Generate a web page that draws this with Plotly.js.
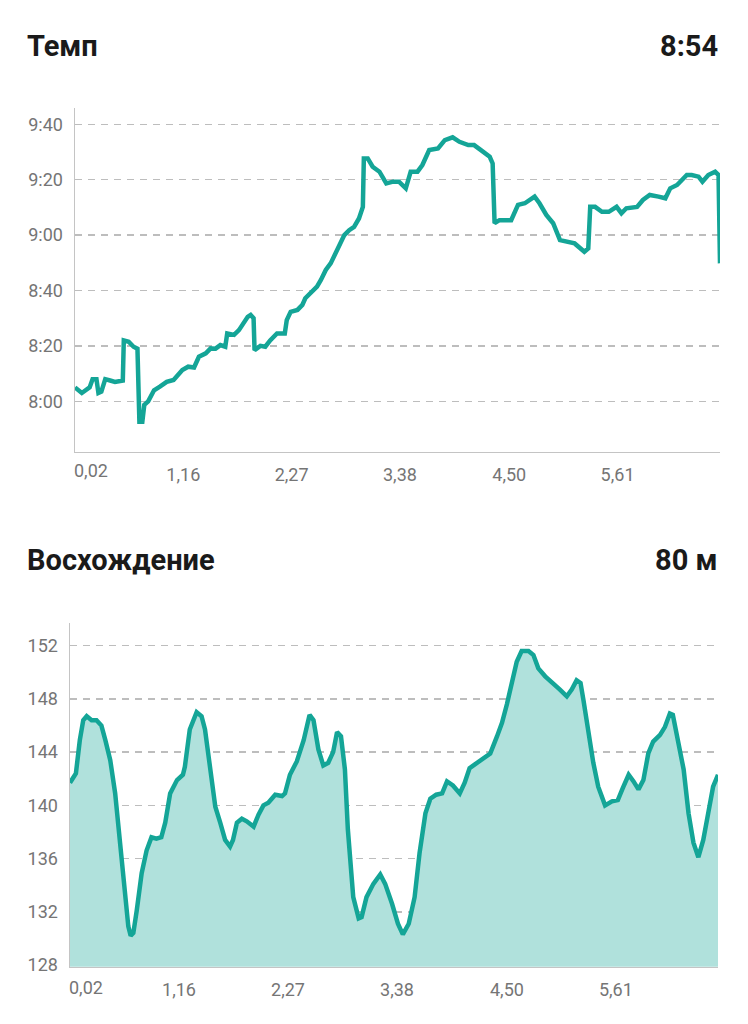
<!DOCTYPE html>
<html>
<head>
<meta charset="utf-8">
<script src="https://cdn.plot.ly/plotly-3.0.1.min.js"></script>
<style>
  body { margin: 0; background: #fff; }
  #charts { width: 748px; height: 1024px; }
</style>
</head>
<body>
<div id="charts"></div>
<script>
// pace, seconds per km, against distance in km
const paceKm = [0.05, 0.12, 0.20, 0.23, 0.27, 0.29, 0.32, 0.36, 0.41, 0.46, 0.54, 0.55, 0.60, 0.65, 0.69, 0.71, 0.74, 0.76, 0.80, 0.86,
  0.92, 0.99, 1.06, 1.15, 1.21, 1.27, 1.32, 1.39, 1.44, 1.49, 1.54, 1.59, 1.61, 1.68, 1.73, 1.78, 1.82, 1.85, 1.88, 1.89,
  1.95, 2.00, 2.05, 2.12, 2.20, 2.22, 2.26, 2.33, 2.38, 2.41, 2.47, 2.53, 2.57, 2.62, 2.67, 2.72, 2.76, 2.81, 2.86, 2.91,
  2.96, 3.00, 3.01, 3.05, 3.10, 3.17, 3.24, 3.31, 3.37, 3.44, 3.49, 3.56, 3.61, 3.68, 3.77, 3.84, 3.92, 3.99, 4.08, 4.14,
  4.21, 4.30, 4.33, 4.35, 4.40, 4.47, 4.52, 4.59, 4.66, 4.76, 4.81, 4.88, 4.95, 5.02, 5.09, 5.17, 5.27, 5.31, 5.33, 5.38,
  5.45, 5.52, 5.60, 5.65, 5.70, 5.81, 5.87, 5.94, 6.03, 6.10, 6.15, 6.22, 6.32, 6.37, 6.44, 6.48, 6.54, 6.61, 6.645, 6.66];
const paceSec = [485, 483, 485, 488, 488, 483, 483.5, 488, 487.5, 487, 487.5, 502, 501.5, 499.7, 499, 472.6, 472.6, 478.7, 480, 484,
  485.3, 487, 487.7, 491.3, 492.5, 492.2, 496.1, 497.3, 499.1, 499, 500.3, 499.7, 504.5, 504, 505.7, 508.2, 510.5, 511.2, 510, 498.5,
  500, 499.7, 502, 504.5, 504.5, 509.3, 512.3, 513, 514.8, 517.2, 519.6, 521.4, 523.8, 527.4, 529.8, 533.4, 537, 540, 541.8, 543,
  546, 550.2, 567.7, 567.7, 564.7, 562.9, 558.7, 559.3, 559.3, 556.9, 562.9, 562.9, 565.3, 570.7, 571.3, 574.3, 575.3, 573.7, 572.5, 572.5,
  570.7, 568.3, 565.9, 544.3, 545.4, 545.6, 545.4, 550.9, 551.5, 553.9, 551.5, 547.3, 544.3, 538.2, 537.6, 537, 534, 535.2, 550.2, 550.2,
  548.4, 548.4, 550.2, 547.9, 549.7, 550.2, 552.7, 554.5, 553.9, 553.3, 556.9, 558.1, 561.7, 561.7, 561.1, 559.3, 561.7, 562.9, 561.7, 529.8];

// elevation, metres
const elevKm = [0.05, 0.11, 0.15, 0.185, 0.22, 0.27, 0.32, 0.37, 0.41, 0.46, 0.51, 0.56, 0.61, 0.644, 0.668, 0.695, 0.73, 0.78, 0.83, 0.88,
  0.93, 0.98, 1.02, 1.07, 1.14, 1.20, 1.22, 1.27, 1.34, 1.39, 1.425, 1.48, 1.53, 1.58, 1.63, 1.68, 1.71, 1.75, 1.80, 1.85,
  1.92, 1.97, 2.02, 2.07, 2.14, 2.21, 2.24, 2.29, 2.36, 2.43, 2.49, 2.53, 2.58, 2.63, 2.68, 2.73, 2.77, 2.81, 2.85, 2.88,
  2.935, 2.99, 3.02, 3.07, 3.14, 3.21, 3.26, 3.33, 3.39, 3.44, 3.50, 3.56, 3.61, 3.67, 3.72, 3.78, 3.84, 3.89, 3.95, 4.02,
  4.07, 4.12, 4.19, 4.26, 4.33, 4.40, 4.45, 4.50, 4.55, 4.60, 4.65, 4.72, 4.77, 4.82, 4.89, 4.97, 5.04, 5.11, 5.16, 5.21,
  5.25, 5.28, 5.33, 5.38, 5.43, 5.50, 5.57, 5.63, 5.68, 5.74, 5.79, 5.84, 5.89, 5.94, 5.99, 6.06, 6.11, 6.16, 6.19, 6.24,
  6.30, 6.35, 6.40, 6.45, 6.50, 6.55, 6.60, 6.65];
const elevM = [141.7, 142.4, 144.9, 146.4, 146.7, 146.4, 146.4, 146, 144.9, 143.4, 140.9, 137.2, 133.1, 130.9, 130.2, 130.4, 132.1, 134.9, 136.6, 137.6,
  137.5, 137.6, 138.7, 140.9, 141.9, 142.3, 142.9, 145.7, 147, 146.7, 145.7, 142.7, 139.9, 138.7, 137.4, 136.9, 137.4, 138.7, 139, 138.8,
  138.4, 139.3, 140, 140.2, 140.8, 140.7, 140.9, 142.3, 143.3, 144.9, 146.8, 146.4, 144.2, 143, 143.2, 144, 145.5, 145.2, 142.7, 138.2,
  133.1, 131.5, 131.6, 133.1, 134.1, 134.8, 134.1, 132.6, 131.1, 130.3, 131.1, 133.1, 136.4, 139.4, 140.5, 140.8, 140.9, 141.8, 141.5, 140.9,
  141.7, 142.8, 143.2, 143.5, 143.9, 145.2, 146.2, 147.6, 149.3, 150.8, 151.6, 151.6, 151.3, 150.3, 149.7, 149.2, 148.7, 148.2, 148.7, 149.4,
  149.2, 147.9, 145.4, 143.2, 141.4, 140, 140.3, 140.4, 141.3, 142.3, 141.8, 141.2, 141.9, 143.9, 144.8, 145.3, 145.9, 146.9, 146.8, 144.9,
  142.7, 139.4, 137.2, 136.1, 137.4, 139.4, 141.4, 142.3];

const paceTicks = [480, 500, 520, 540, 560, 580];
const paceLabels = ["8:00", "8:20", "8:40", "9:00", "9:20", "9:40"];
const elevTicks = [128, 132, 136, 140, 144, 148, 152];
const distTicks = [1.16, 2.27, 3.38, 4.50, 5.61];
const distLabels = ["1,16", "2,27", "3,38", "4,50", "5,61"];
const firstDistLabel = "0,02";

const teal = "#14a597";
const tickFont = { family: "Roboto, sans-serif", size: 18, color: "#757575" };
const titleFont = { family: "Roboto, sans-serif", size: 29, color: "#1a1a1a", weight: 700 };

const grid = {
  showgrid: true, gridcolor: "#bdbdbd", gridwidth: 1.5, griddash: "7px,6px",
  zeroline: false, showline: true, linecolor: "#c4c4c4", linewidth: 1.5,
  ticks: "", tickfont: tickFont, fixedrange: true
};

const traces = [
  {
    x: paceKm, y: paceSec, type: "scatter", mode: "lines",
    line: { color: teal, width: 4.5 }, xaxis: "x", yaxis: "y", hoverinfo: "skip"
  },
  {
    x: elevKm, y: elevM, type: "scatter", mode: "lines", fill: "tozeroy",
    fillcolor: "#b0e1dc", line: { color: teal, width: 4.5 }, xaxis: "x2", yaxis: "y2", hoverinfo: "skip"
  }
];

const layout = {
  width: 748, height: 1024,
  margin: { l: 0, r: 0, t: 0, b: 0 },
  paper_bgcolor: "#fff", plot_bgcolor: "#fff",
  showlegend: false,
  xaxis: Object.assign({}, grid, {
    domain: [75 / 748, 720 / 748], anchor: "y", range: [0.05, 6.66],
    showgrid: false, tickvals: distTicks, ticktext: distLabels, ticklabelstandoff: 6
  }),
  yaxis: Object.assign({}, grid, {
    domain: [1 - 451.7 / 1024, 1 - 108 / 1024], anchor: "x", range: [461.8, 585.9],
    tickvals: paceTicks, ticktext: paceLabels, ticklabelstandoff: 7
  }),
  xaxis2: Object.assign({}, grid, {
    domain: [70 / 748, 718 / 748], anchor: "y2", range: [0.05, 6.65],
    showgrid: false, tickvals: distTicks, ticktext: distLabels, ticklabelstandoff: 6
  }),
  yaxis2: Object.assign({}, grid, {
    domain: [1 - 966.7 / 1024, 1 - 623 / 1024], anchor: "x2", range: [127.87, 153.71],
    tickvals: elevTicks, ticklabelstandoff: 7
  }),
  annotations: [
    { text: "Темп", x: 25 / 748, y: 1 - 46 / 1024, xanchor: "left", yanchor: "middle", xref: "paper", yref: "paper", showarrow: false, font: titleFont },
    { text: "8:54", x: 720 / 748, y: 1 - 46 / 1024, xanchor: "right", yanchor: "middle", xref: "paper", yref: "paper", showarrow: false, font: titleFont },
    { text: "Восхождение", x: 25 / 748, y: 1 - 560 / 1024, xanchor: "left", yanchor: "middle", xref: "paper", yref: "paper", showarrow: false, font: titleFont },
    { text: "80 м", x: 720 / 748, y: 1 - 560 / 1024, xanchor: "right", yanchor: "middle", xref: "paper", yref: "paper", showarrow: false, font: titleFont },
    // first distance label sits flush with the axis start, like the app does
    { text: firstDistLabel, x: 72 / 748, y: 1 - 470 / 1024, xanchor: "left", yanchor: "middle", xref: "paper", yref: "paper", showarrow: false, font: tickFont },
    { text: firstDistLabel, x: 67 / 748, y: 1 - 987 / 1024, xanchor: "left", yanchor: "middle", xref: "paper", yref: "paper", showarrow: false, font: tickFont }
  ]
};

Plotly.newPlot("charts", traces, layout, { staticPlot: true, displayModeBar: false });
</script>
</body>
</html>
